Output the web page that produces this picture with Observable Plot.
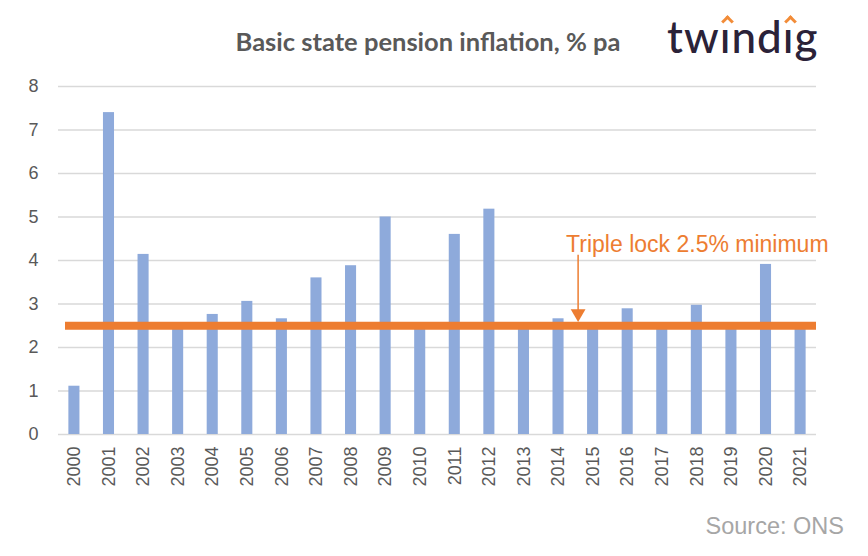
<!DOCTYPE html>
<html>
<head>
<meta charset="utf-8">
<script src="https://cdn.jsdelivr.net/npm/d3@7"></script>
<script src="https://cdn.jsdelivr.net/npm/@observablehq/plot@0.6"></script>
<style>
  html, body { margin: 0; padding: 0; background: #fff; }
  #wrap { position: relative; width: 868px; height: 556px; overflow: hidden; }
  #chart { position: absolute; left: 0; top: 0; }
  #title { position: absolute; left: 0; width: 856px; top: 26px; text-align: center;
    font-family: "Lato", "Open Sans", sans-serif; font-weight: 700; font-size: 25.5px; color: #595959; }
  #logo { position: absolute; left: 667px; top: 14px; font-family: "Lato", sans-serif; font-weight: 500;
    font-size: 44px; color: #2b2238; letter-spacing: 1px; line-height: 1; }
  #logo .i { position: relative; }
  #logo .i::before { content: ""; position: absolute; left: 50%; top: 7px; width: 6px; height: 6px;
    margin-left: -3px; border-left: 3px solid #f28c38; border-top: 3px solid #f28c38; transform: rotate(45deg); }
  #source { position: absolute; right: 24px; top: 513px; font-family: "Liberation Sans", Arial, sans-serif;
    font-size: 23.5px; color: #a6a6a6; }
</style>
</head>
<body>
<div id="wrap">
  <div id="chart"></div>
  <div id="title">Basic state pension inflation, % pa</div>
  <div id="logo">tw<span class="i">ı</span>nd<span class="i">ı</span>g</div>
  <div id="source">Source: ONS</div>
</div>
<script>
const years = ["2000","2001","2002","2003","2004","2005","2006","2007","2008","2009","2010",
               "2011","2012","2013","2014","2015","2016","2017","2018","2019","2020","2021"];
const values = [1.11, 7.4, 4.14, 2.57, 2.76, 3.06, 2.66, 3.6, 3.88, 5.0, 2.5,
                4.6, 5.18, 2.49, 2.66, 2.5, 2.89, 2.5, 2.97, 2.54, 3.91, 2.47];
const yTicks = [0, 1, 2, 3, 4, 5, 6, 7, 8];
const tripleLock = 2.5;
const noteText = "Triple lock 2.5% minimum";
const noteYear = "2015";
const noteTextY = 4.36;
const arrowTop = 4.12;
const arrowHead = 2.78;

const data = years.map((year, i) => ({year, value: values[i]}));
const orange = "#ed7d31";

const chart = Plot.plot({
  width: 868,
  height: 556,
  marginLeft: 58,
  marginRight: 52,
  marginTop: 86,
  marginBottom: 122,
  x: {domain: years, paddingInner: 0.68, paddingOuter: 0.3, round: false, label: null},
  y: {domain: [0, 8], label: null},
  style: {fontFamily: "'Liberation Sans', Arial, sans-serif", fontSize: "18px", color: "#595959", background: "transparent"},
  marks: [
    Plot.gridY(yTicks, {stroke: "#d9d9d9", strokeOpacity: 1, strokeWidth: 1.3}),
    Plot.barY(data, {x: "year", y: "value", fill: "#8eaadb"}),
    Plot.ruleY([tripleLock], {stroke: orange, strokeWidth: 8, insetLeft: 7}),
    Plot.ruleX([noteYear], {x: d => d, y1: arrowTop, y2: arrowHead, dx: -15, stroke: orange, strokeWidth: 1.5}),
    Plot.dot([noteYear], {x: d => d, y: arrowHead, dx: -15, symbol: "triangle", rotate: 180, r: 5.5, fill: orange, stroke: null}),
    Plot.text([noteText], {x: () => noteYear, y: () => noteTextY, text: d => d, textAnchor: "start", dx: -27,
      fill: orange, fontSize: 23, fontFamily: "'Liberation Sans', Arial, sans-serif"}),
    Plot.axisY(yTicks, {tickSize: 0, tickPadding: 20, fontSize: 18, label: null}),
    Plot.axisX({tickSize: 0, tickRotate: -90, tickPadding: 12, fontSize: 18, label: null})
  ]
});
document.getElementById("chart").appendChild(chart);
</script>
</body>
</html>
